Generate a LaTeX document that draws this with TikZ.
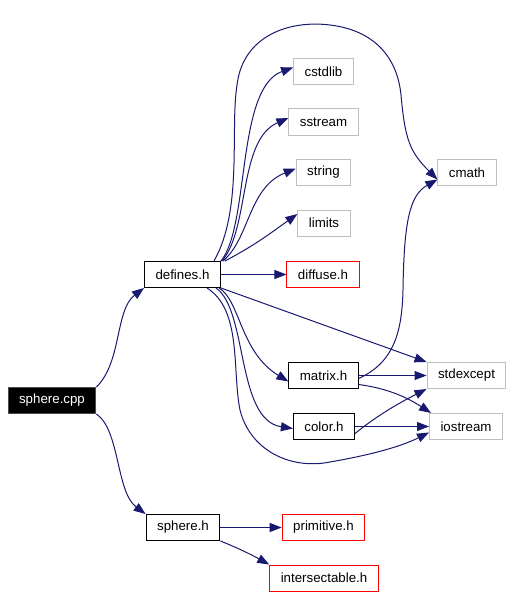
\documentclass[tikz,border=0pt]{standalone}
\usepackage{fontspec}
\setmainfont{Liberation Sans}
\usetikzlibrary{arrows.meta}
\definecolor{edgeblue}{HTML}{191970}
\definecolor{extgray}{HTML}{BFBFBF}

\begin{document}
\begin{tikzpicture}[
  x=1pt,y=-1pt,
  file/.style={rectangle,draw=black,line width=1pt,inner xsep=11pt,inner ysep=0pt,minimum height=26pt,font=\fontsize{13.3}{15}\selectfont},
  mainfile/.style={file,fill=black,text=white,draw=black!70},
  extfile/.style={file,draw=extgray},
  missfile/.style={file,draw=red},
  dep/.style={draw=edgeblue,line width=1pt,-{Triangle[length=12pt,width=9pt]}}
]
  \useasboundingbox (0,0) rectangle (514,599);
  \node[mainfile] (spherecpp) at (52,400.5) {sphere.cpp};
  \node[file] (defines) at (182.5,274.5) {defines.h};
  \node[file] (sphereh) at (183,527.5) {sphere.h};
  \node[extfile] (cstdlib) at (323.5,71.5) {cstdlib};
  \node[extfile] (sstream) at (323.5,122) {sstream};
  \node[extfile] (string) at (323.5,172.5) {string};
  \node[extfile] (limits) at (324,223) {limits};
  \node[extfile] (cmath) at (467,172.5) {cmath};
  \node[missfile] (diffuse) at (323,274.5) {diffuse.h};
  \node[file] (matrix) at (323.5,375.5) {matrix.h};
  \node[extfile] (stdexcept) at (466.5,375.5) {stdexcept};
  \node[file] (color) at (324,426.5) {color.h};
  \node[extfile] (iostream) at (466,426.5) {iostream};
  \node[missfile] (primitive) at (323.5,527.5) {primitive.h};
  \node[missfile] (intersect) at (324,578) {intersectable.h};
  % sphere.cpp
  \draw[dep] (spherecpp.north east) .. controls (122,362) and (115,310) .. (defines.south west);
  \draw[dep] (spherecpp.south east) .. controls (120,430) and (116,492) .. (sphereh.north west);
  % sphere.h
  \draw[dep] (sphereh) -- (primitive);
  \draw[dep] (sphereh.south east) .. controls (238,548) and (252,555) .. (intersect.north west);
  % defines.h
  \draw[dep] (defines.north east) .. controls (250,225) and (236,88) .. ([yshift=4pt]cstdlib.west);
  \draw[dep] ([xshift=1pt]defines.north east) .. controls (250,228) and (238,140) .. ([yshift=4pt]sstream.west);
  \draw[dep] ([xshift=2pt]defines.north east) .. controls (250,238) and (248,188) .. ([yshift=4pt]string.west);
  \draw[dep] ([xshift=4pt]defines.north east) .. controls (255,245) and (268,235) .. ([yshift=9pt]limits.west);
  \draw[dep] (defines) -- (diffuse);
  \draw[dep] ([xshift=-7pt]defines.north east) .. controls (243,210) and (230,130) .. (237,85)
    .. controls (243,35) and (290,20) .. (330,25)
    .. controls (372,30) and (397,55) .. (401,95)
    .. controls (405,140) and (410,152) .. ([yshift=-7pt]cmath.west);
  \draw[dep] (defines.south east) -- (stdexcept.north west);
  \draw[dep] ([xshift=-2pt]defines.south east) .. controls (240,300) and (240,352) .. ([yshift=-6pt]matrix.west);
  \draw[dep] ([xshift=-5pt]defines.south east) .. controls (248,310) and (236,420) .. ([yshift=-2pt]color.west);
  \draw[dep] ([xshift=-14pt]defines.south east) .. controls (242,310) and (232,370) .. (240,410)
    .. controls (250,450) and (290,470) .. (330,462)
    .. controls (370,455) and (400,447) .. ([yshift=-6pt]iostream.west);
  % matrix.h
  \draw[dep] ([yshift=-3pt]matrix.east) .. controls (395,362) and (402,330) .. (403,290)
    .. controls (404,220) and (410,195) .. ([yshift=-7pt]cmath.west);
  \draw[dep] (matrix) -- (stdexcept);
  \draw[dep] ([yshift=-9pt]matrix.east) .. controls (385,388) and (405,396) .. ([xshift=2pt]iostream.north west);
  % color.h
  \draw[dep] ([yshift=-7pt]color.east) .. controls (380,413) and (405,400) .. (stdexcept.south west);
  \draw[dep] (color) -- (iostream);
\end{tikzpicture}
\end{document}
